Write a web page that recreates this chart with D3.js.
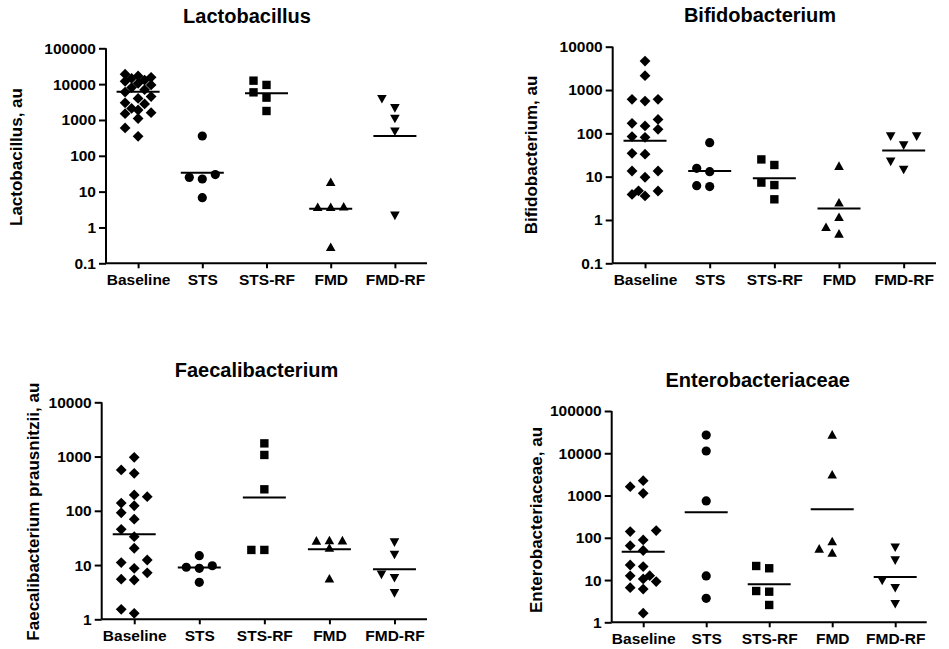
<!DOCTYPE html>
<html>
<head>
<meta charset="utf-8">
<script src="https://cdn.jsdelivr.net/npm/d3@7"></script>
<style>
  html, body { margin: 0; padding: 0; background: #fff; }
  svg { display: block; font-family: "Liberation Sans", Arial, Helvetica, sans-serif; font-weight: bold; }
</style>
</head>
<body>
<svg id="chart" width="949" height="649"></svg>
<script>
// ---------- data ----------
const categories = ["Baseline", "STS", "STS-RF", "FMD", "FMD-RF"];

const lactobacillus = [
  [19000, 17000, 15500, 14500, 13000, 12000, 10500, 9500, 8000, 7000, 6000,
   4500, 4000, 3000, 2800, 2100, 1900, 1600, 1500, 1100, 600, 350],
  [357, 30, 25, 22.5, 6.8],
  [12500, 9500, 5900, 4200, 1780],
  [18.9, 3.9, 3.8, 3.8, 0.29],
  [3770, 2110, 1060, 471, 2.1]
];
const lactobacillusMean = [6150, 33.8, 5550, 3.34, 357];
const lactobacillusTicks = [0.1, 1, 10, 100, 1000, 10000, 100000];

const bifidobacterium = [
  [4670, 2140, 610, 557, 610, 210, 148, 170, 124, 84, 81, 33, 34.5, 13.5, 9.7, 13.5, 4.67, 3.6, 4.7, 3.9],
  [61, 15.6, 13.0, 5.9, 6.2],
  [25, 18.6, 7.3, 6.4, 3.0],
  [18, 2.56, 1.19, 0.70, 0.49],
  [84, 84, 52, 22, 14.3]
];
const bifidobacteriumMean = [67.8, 13.5, 9.2, 1.83, 40];
const bifidobacteriumTicks = [0.1, 1, 10, 100, 1000, 10000];

const faecalibacterium = [
  [968, 566, 491, 182, 196, 124, 139, 92, 70, 45.6, 33.4, 20.4, 11.1, 12.4, 8.7, 5.5, 5.3, 7.2, 1.29, 1.53],
  [14.9, 9.1, 8.7, 9.7, 4.8],
  [1750, 1070, 249, 19, 19],
  [28.8, 29, 28.5, 21, 5.7],
  [25.9, 15.3, 6.6, 5.7, 3.0]
];
const faecalibacteriumMean = [36.9, 9.0, 175, 19.5, 8.4];
const faecalibacteriumTicks = [1, 10, 100, 1000, 10000];

const enterobacteriaceae = [
  [1620, 1127, 2245, 140, 148, 89, 65, 50, 20.8, 22.7, 10.6, 12.7, 12.6, 9.2, 6.6, 6.1, 1.64],
  [27000, 11300, 743, 12.5, 3.7],
  [19, 21.5, 5.5, 5.3, 2.57],
  [28000, 3180, 84, 45, 56],
  [58, 28.8, 9.5, 6.4, 2.67]
];
const enterobacteriaceaeMean = [47, 401, 7.9, 472, 11.8];
const enterobacteriaceaeTicks = [1, 10, 100, 1000, 10000, 100000];

// ---------- layout ----------
const panels = [
  { title: "Lactobacillus", ylabel: "Lactobacillus, au", data: lactobacillus, mean: lactobacillusMean, ticks: lactobacillusTicks,
    x0: 106, x1: 427, yTop: 48.3, yBot: 263.3, tx: 247, ty: 23, lx: 21.5, ly: 157 },
  { title: "Bifidobacterium", ylabel: "Bifidobacterium, au", data: bifidobacterium, mean: bifidobacteriumMean, ticks: bifidobacteriumTicks,
    x0: 612.7, x1: 936, yTop: 46.7, yBot: 263.3, tx: 760, ty: 21.5, lx: 537, ly: 155 },
  { title: "Faecalibacterium", ylabel: "Faecalibacterium prausnitzii, au", data: faecalibacterium, mean: faecalibacteriumMean, ticks: faecalibacteriumTicks,
    x0: 101.7, x1: 427, yTop: 402.3, yBot: 619.3, tx: 256.5, ty: 377, lx: 39, ly: 511.7 },
  { title: "Enterobacteriaceae", ylabel: "Enterobacteriaceae, au", data: enterobacteriaceae, mean: enterobacteriaceaeMean, ticks: enterobacteriaceaeTicks,
    x0: 611.7, x1: 926.7, yTop: 411, yBot: 622.3, tx: 757.7, ty: 387, lx: 542, ly: 520 }
];

// marker shapes (path relative to center)
const shapes = [
  () => { const h = 5.4; return `M0,${-h}L${h},0L0,${h}L${-h},0Z`; },                 // diamond
  () => { const r = 4.6; return `M${r},0A${r},${r} 0 1,1 ${-r},0A${r},${r} 0 1,1 ${r},0Z`; }, // circle
  () => { const h = 4.2; return `M${-h},${-h}H${h}V${h}H${-h}Z`; },                   // square
  () => { const w = 4.8, h = 4.3; return `M0,${-h}L${w},${h}L${-w},${h}Z`; },          // triangle up
  () => { const w = 4.8, h = 4.3; return `M0,${h}L${w},${-h}L${-w},${-h}Z`; }           // triangle down
];

const svg = d3.select("#chart");

function dodge(ys, step, size) {
  // greedy column placement like a scatter dot plot
  const order = ys.map((y, i) => i).sort((a, b) => ys[b] - ys[a]);
  const cands = [0, -step, step, -step / 2, step / 2];
  const placed = [];
  const off = new Array(ys.length).fill(0);
  for (const i of order) {
    let best = null, bestD = -1;
    for (const c of cands) {
      let minD = Infinity;
      for (const p of placed) {
        const d = Math.hypot(p.x - c, p.y - ys[i]);
        if (d < minD) minD = d;
      }
      if (minD >= size) { best = c; bestD = Infinity; break; }
      if (minD > bestD) { bestD = minD; best = c; }
    }
    off[i] = best;
    placed.push({ x: best, y: ys[i] });
  }
  return off;
}

panels.forEach(p => {
  const g = svg.append("g");
  const x = d3.scalePoint().domain(categories).range([p.x0, p.x1]).padding(0.5);
  const y = d3.scaleLog().domain([p.ticks[0], p.ticks[p.ticks.length - 1]]).range([p.yBot, p.yTop]);

  // y axis
  const yAxis = d3.axisLeft(y).tickValues(p.ticks).tickFormat(d => String(d)).tickSize(7).tickPadding(3);
  const ya = g.append("g").attr("transform", `translate(${p.x0},0)`).call(yAxis);
  ya.select(".domain").attr("d", `M0,${p.yTop}V${p.yBot}`);

  // x axis
  const xAxis = d3.axisBottom(x).tickSize(5).tickPadding(6);
  const xa = g.append("g").attr("transform", `translate(0,${p.yBot})`).call(xAxis);
  xa.select(".domain").attr("d", `M${p.x0},0H${p.x1}`);

  [ya, xa].forEach(a => {
    a.select(".domain").attr("stroke", "#000").attr("stroke-width", 2).attr("fill", "none");
    a.selectAll(".tick line").attr("stroke", "#000").attr("stroke-width", 2);
    a.selectAll(".tick text").attr("fill", "#000").attr("font-size", 15.5)
      .attr("font-family", '"Liberation Sans", Arial, sans-serif').attr("font-weight", "bold");
  });

  // title
  g.append("text").attr("x", p.tx).attr("y", p.ty).attr("text-anchor", "middle")
    .attr("font-size", 20).attr("fill", "#000").text(p.title);
  // y label
  g.append("text").attr("transform", `translate(${p.lx},${p.ly}) rotate(-90)`).attr("text-anchor", "middle")
    .attr("font-size", 17).attr("fill", "#000").text(p.ylabel);

  // points
  p.data.forEach((vals, gi) => {
    const cx = x(categories[gi]);
    const ys = vals.map(v => y(v));
    const offs = dodge(ys, 13, 9.5);
    g.append("g").selectAll("path").data(vals).join("path")
      .attr("d", shapes[gi]())
      .attr("transform", (v, i) => `translate(${cx + offs[i]},${y(v)})`)
      .attr("fill", "#000");
    // mean line
    g.append("line")
      .attr("x1", cx - 21.5).attr("x2", cx + 21.5)
      .attr("y1", y(p.mean[gi])).attr("y2", y(p.mean[gi]))
      .attr("stroke", "#000").attr("stroke-width", 2);
  });
});
</script>
</body>
</html>
